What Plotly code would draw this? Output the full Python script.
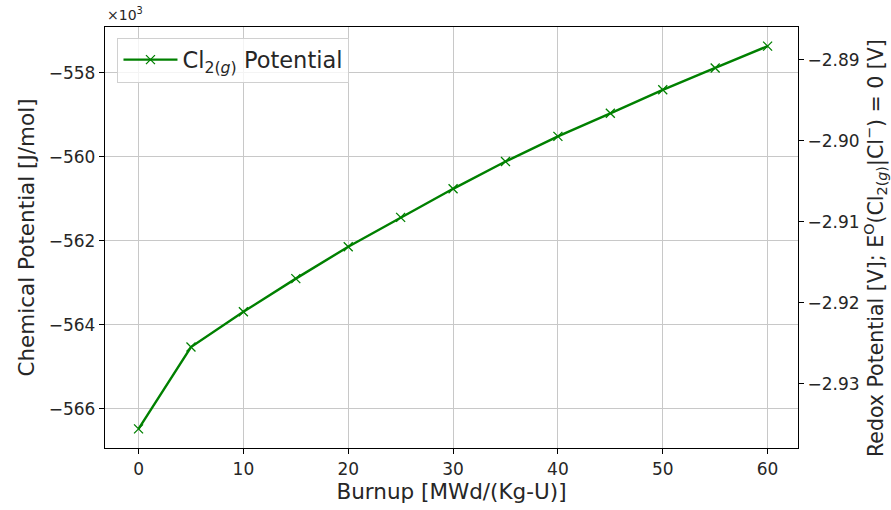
import plotly.graph_objects as go

burnup = [0, 5, 10, 15, 20, 25, 30, 35, 40, 45, 50, 55, 60]
chem_potential = [-566480, -564530, -563690, -562900, -562140, -561440, -560760,
                  -560110, -559510, -558960, -558400, -557880, -557360]  # J/mol
x_ticks = [0, 10, 20, 30, 40, 50, 60]
y_ticks = [-566, -564, -562, -560, -558]  # x10^3
y2_ticks = [-2.93, -2.92, -2.91, -2.90, -2.89]

FARADAY = 96485.33
N_ELECTRONS = 2

y_scaled = [v / 1000 for v in chem_potential]
ymin, ymax = min(y_scaled), max(y_scaled)
pad = 0.05 * (ymax - ymin)
yrange = [ymin - pad, ymax + pad]
y2range = [r * 1000 / (N_ELECTRONS * FARADAY) for r in yrange]

FONT = "DejaVu Sans"

fig = go.Figure()
fig.add_trace(go.Scatter(
    x=burnup, y=y_scaled, mode="lines+markers",
    name="Cl<sub>2(<i>g</i>)</sub> Potential",
    line=dict(color="#008000", width=2.4),
    marker=dict(symbol="x-thin", size=9, line=dict(color="#008000", width=1.3)),
))
# invisible trace for secondary axis
fig.add_trace(go.Scatter(
    x=[burnup[0]], y=[y2range[0]], yaxis="y2", mode="markers",
    marker=dict(opacity=0), showlegend=False, hoverinfo="skip",
))

axis_common = dict(
    showline=True, linecolor="black", linewidth=1.3,
    ticks="outside", ticklen=5, tickcolor="black", tickwidth=1,
    tickfont=dict(family=FONT, size=17, color="#262626"),
    zeroline=False,
)

fig.update_layout(
    width=891, height=510,
    margin=dict(l=105, r=93, t=27, b=62),
    paper_bgcolor="white", plot_bgcolor="white",
    font=dict(family=FONT, color="#262626"),
    xaxis=dict(
        range=[-3.2, 62.9], tickvals=x_ticks, mirror=True,
        showgrid=True, gridcolor="#c8c8c8", gridwidth=1,
        title=dict(text="Burnup [MWd/(Kg-U)]", font=dict(family=FONT, size=21.5), standoff=3),
        **axis_common,
    ),
    yaxis=dict(
        range=yrange, tickvals=y_ticks, mirror=True,
        showgrid=True, gridcolor="#c8c8c8", gridwidth=1,
        title=dict(text="Chemical Potential [J/mol]", font=dict(family=FONT, size=21.5), standoff=8),
        **axis_common,
    ),
    yaxis2=dict(
        overlaying="y", side="right", range=y2range, tickvals=y2_ticks,
        tickformat=".2f", showgrid=False,
        **axis_common,
    ),
    legend=dict(
        x=0.018, y=0.975, xanchor="left", yanchor="top",
        bgcolor="rgba(255,255,255,0.8)", bordercolor="#d0d0d0", borderwidth=1,
        font=dict(family=FONT, size=22.5, color="#262626"),
        itemwidth=54,
    ),
    showlegend=True,
)

fig.add_annotation(
    text="×10<sup>3</sup>", xref="paper", yref="paper", x=0, y=1.0,
    xanchor="left", yanchor="bottom", showarrow=False, yshift=2,
    font=dict(family=FONT, size=14, color="#262626"),
)

# right-axis title
fig.add_annotation(
    text="Redox Potential [V]; E<sup>O</sup>(Cl<sub>2(<i>g</i>)</sub>|Cl<sup>−</sup>) = 0 [V]",
    xref="paper", yref="paper", x=1, y=0.475, xshift=77,
    xanchor="center", yanchor="middle", textangle=-90, showarrow=False,
    font=dict(family=FONT, size=20.5, color="#262626"),
)

fig.write_html("out.html")
